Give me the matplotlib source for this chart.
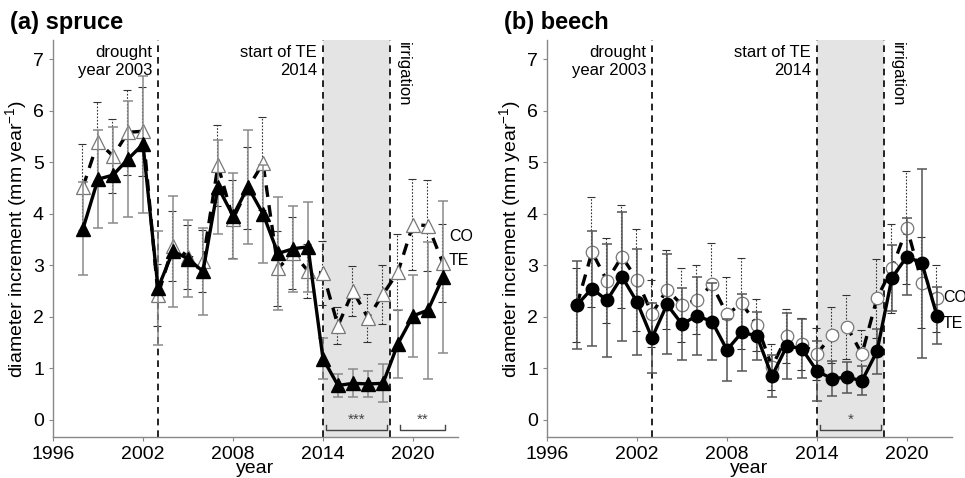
import numpy as np
import matplotlib.pyplot as plt

plt.rcParams['font.family'] = ['Liberation Sans', 'DejaVu Sans']
plt.rcParams['mathtext.fontset'] = 'custom'
plt.rcParams['mathtext.rm'] = 'Liberation Sans'

years = np.arange(1998, 2023)

# (a) spruce
spruce_te = [3.71, 4.67, 4.75, 5.06, 5.35, 2.56, 3.27, 3.13, 2.88, 4.52, 3.96, 4.52, 4.00,
             3.23, 3.32, 3.36, 1.19, 0.67, 0.71, 0.70, 0.71, 1.48, 2.02, 2.13, 2.77]
spruce_te_err = [0.90, 0.95, 0.93, 1.13, 1.33, 1.10, 1.07, 0.75, 0.85, 0.92, 0.83, 1.10, 0.95,
                 1.10, 0.84, 0.87, 0.40, 0.23, 0.27, 0.25, 0.37, 0.66, 0.80, 1.33, 1.48]
spruce_co = [4.52, 5.40, 5.12, 5.58, 5.60, 2.42, 3.38, 3.17, 3.09, 4.94, 3.90, 4.50, 4.98,
             2.94, 3.24, 2.89, 2.85, 1.83, 2.50, 1.98, 2.44, 2.87, 3.79, 3.77, 3.04]
spruce_co_err = [0.84, 0.77, 0.71, 0.82, 0.86, 0.60, 0.68, 0.62, 0.60, 0.78, 0.75, 0.80, 0.90,
                 0.73, 0.69, 0.53, 0.62, 0.36, 0.48, 0.47, 0.57, 0.73, 0.88, 0.88, 0.76]

# (b) beech
beech_te = [2.23, 2.55, 2.32, 2.78, 2.29, 1.59, 2.24, 1.86, 2.02, 1.91, 1.36, 1.70, 1.63,
            0.85, 1.44, 1.38, 0.95, 0.80, 0.83, 0.76, 1.33, 2.76, 3.17, 3.04, 2.02]
beech_te_err = [0.85, 1.12, 1.10, 1.25, 1.03, 0.67, 0.97, 0.70, 0.76, 0.75, 0.60, 0.75, 0.47,
                0.41, 0.64, 0.57, 0.58, 0.34, 0.30, 0.28, 0.44, 0.64, 0.75, 1.83, 0.55]
beech_co = [2.23, 3.26, 2.70, 3.17, 2.72, 2.06, 2.53, 2.23, 2.33, 2.63, 2.05, 2.26, 1.84,
            1.03, 1.63, 1.47, 1.28, 1.65, 1.81, 1.28, 2.36, 2.94, 3.73, 2.66, 2.36]
beech_co_err = [0.72, 1.07, 0.82, 1.00, 0.99, 0.65, 0.76, 0.71, 0.67, 0.81, 0.73, 0.89, 0.50,
                0.45, 0.53, 0.50, 0.50, 0.55, 0.62, 0.46, 0.77, 0.87, 1.10, 0.88, 0.65]

x_ticks = [1996, 2002, 2008, 2014, 2020]
y_ticks = [0, 1, 2, 3, 4, 5, 6, 7]

fig = plt.figure(figsize=(9.65, 4.78), dpi=100)
ax1 = fig.add_axes([0.0549, 0.0858, 0.4197, 0.8305])
ax2 = fig.add_axes([0.5668, 0.0858, 0.4197, 0.8305])

panels = [
    (ax1, '(a) spruce', '^', spruce_te, spruce_te_err, spruce_co, spruce_co_err, '#8a8a8a',
     [(2014.2, 2018.3, '***'), (2019.15, 2022.15, '**')], (3.55, 3.1)),
    (ax2, '(b) beech', 'o', beech_te, beech_te_err, beech_co, beech_co_err, '#555555',
     [(2014.2, 2018.3, '*')], (2.38, 1.88)),
]

for ax, title, mk, te, te_err, co, co_err, te_ecol, brackets, lab_y in panels:
    ax.axvspan(2014, 2018.5, color='#e4e4e4', zorder=0, lw=0)
    for xv in [2003, 2014, 2018.5]:
        ax.axvline(xv, color='black', ls=(0, (4, 3)), lw=1.2, zorder=1)

    # CO: dashed line, white markers, dotted error bars
    eb = ax.errorbar(years - 0.08, co, yerr=co_err, fmt='none', ecolor='#333333',
                     elinewidth=0.8, capsize=3, capthick=0.8, zorder=2)
    for lc in eb[2]:
        lc.set_linestyle((0, (1.5, 1.5)))
    ax.plot(years, co, ls=(0, (3.5, 2.5)), color='black', lw=2.4, zorder=3)
    ax.plot(years, co, ls='none', marker=mk, ms=10 if mk == '^' else 9,
            mfc='white', mec='#777777', mew=0.9, zorder=4)

    # TE: solid line, black markers, solid grey error bars
    ax.errorbar(years, te, yerr=te_err, fmt='none', ecolor=te_ecol,
                elinewidth=1.1, capsize=3.5, capthick=1.1, zorder=5)
    ax.plot(years, te, color='black', lw=2.4, marker=mk, ms=10 if mk == '^' else 9,
            mfc='black', mec='black', zorder=6)

    for x0, x1, stars in brackets:
        ax.plot([x0, x0, x1, x1], [-0.10, -0.19, -0.19, -0.10], color='#444444', lw=1, zorder=6)
        ax.text((x0 + x1) / 2, -0.14, stars, ha='center', va='bottom', fontsize=11,
                color='#444444')

    ax.text(2002.6, 7.27, 'drought\nyear 2003', ha='right', va='top', fontsize=12,
            linespacing=1.25)
    ax.text(2013.6, 7.27, 'start of TE\n2014', ha='right', va='top', fontsize=12,
            linespacing=1.25)
    ax.text(2018.85, 7.33, 'irrigation', ha='left', va='top', rotation=270, fontsize=12)

    ax.text(2022.4, lab_y[0], 'CO', ha='left', va='center', fontsize=11.5)
    ax.text(2022.4, lab_y[1], 'TE', ha='left', va='center', fontsize=11.5)

    ax.set_xlim(1996, 2023)
    ax.set_ylim(-0.33, 7.37)
    ax.set_xticks(x_ticks)
    ax.set_yticks(y_ticks)
    ax.tick_params(labelsize=14, color='#888888', length=3, width=0.8)
    for s in ['top', 'right']:
        ax.spines[s].set_visible(False)
    for s in ['left', 'bottom']:
        ax.spines[s].set_color('#888888')
        ax.spines[s].set_linewidth(1.0)
    ax.set_xlabel('year', fontsize=14, labelpad=-2)
    ax.set_ylabel('diameter increment (mm year$^{\\mathregular{-1}}$)', fontsize=14, labelpad=2)
    ax.set_title(title, loc='left', fontsize=17, fontweight='bold', x=-0.105, y=1.0, pad=8)

fig.savefig('out.png', dpi=100)
